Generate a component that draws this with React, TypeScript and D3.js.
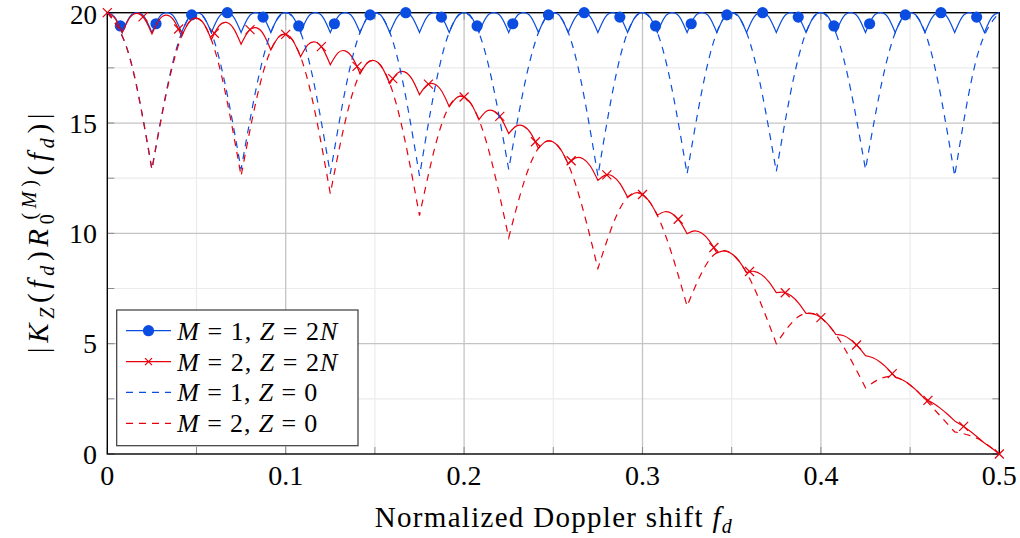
import React from "react";
import * as d3 from "d3";

// ---------- data ----------
const xTickValues = [0, 0.1, 0.2, 0.3, 0.4, 0.5];
const xTickLabels = ["0", "0.1", "0.2", "0.3", "0.4", "0.5"];
const xMinorTicks = [0.05, 0.15, 0.25, 0.35, 0.45];
const yTickValues = [0, 5, 10, 15, 20];
const yTickLabels = ["0", "5", "10", "15", "20"];
const yMinorTicks = [2.5, 7.5, 12.5, 17.5];

// solid curves: samples every 1/240 in f_d (peaks, quarter points, cusps)
const solidStep = 1 / 240;
const blueSolid = [
  20, 19.8, 19.1, 19.8, 20, 19.8, 19.1, 19.8, 20, 19.8, 19.1, 19.8, 20, 19.8, 19.1, 19.8, 20, 19.8, 19.1, 19.8,
  20, 19.8, 19.1, 19.8, 20, 19.8, 19.1, 19.8, 20, 19.8, 19.1, 19.8, 20, 19.8, 19.1, 19.8, 20, 19.8, 19.1, 19.8,
  20, 19.8, 19.1, 19.8, 20, 19.8, 19.1, 19.8, 20, 19.8, 19.1, 19.8, 20, 19.8, 19.1, 19.8, 20, 19.8, 19.1, 19.8,
  20, 19.8, 19.1, 19.8, 20, 19.8, 19.1, 19.8, 20, 19.8, 19.1, 19.8, 20, 19.8, 19.1, 19.8, 20, 19.8, 19.1, 19.8,
  20, 19.8, 19.1, 19.8, 20, 19.8, 19.1, 19.8, 20, 19.8, 19.1, 19.8, 20, 19.8, 19.1, 19.8, 20, 19.8, 19.1, 19.8,
  20, 19.8, 19.1, 19.8, 20, 19.8, 19.1, 19.8, 20, 19.8, 19.1, 19.8, 20, 19.8, 19.1, 19.8, 20, 19.8, 19.1, 19.8,
  20,
];
const redSolid = [
  20.0, 19.77, 19.09, 19.76, 19.97, 19.73, 19.04, 19.69, 19.89, 19.63,
  18.93, 19.57, 19.75, 19.49, 18.78, 19.39, 19.56, 19.28, 18.57, 19.16,
  19.32, 19.03, 18.31, 18.88, 19.02, 18.72, 18.0, 18.55, 18.67, 18.36,
  17.64, 18.17, 18.27, 17.95, 17.24, 17.73, 17.82, 17.5, 16.78, 17.25,
  17.32, 16.99, 16.28, 16.72, 16.77, 16.44, 15.74, 16.15, 16.18, 15.84,
  15.15, 15.53, 15.54, 15.2, 14.52, 14.86, 14.86, 14.52, 13.85, 14.16,
  14.14, 13.8, 13.15, 13.42, 13.38, 13.04, 12.4, 12.64, 12.59, 12.24,
  11.63, 11.83, 11.76, 11.41, 10.82, 10.98, 10.89, 10.55, 9.98, 10.11,
  10.0, 9.66, 9.11, 9.21, 9.08, 8.74, 8.22, 8.28, 8.13, 7.8,
  7.31, 7.33, 7.17, 6.84, 6.37, 6.35, 6.18, 5.86, 5.42, 5.37,
  5.18, 4.87, 4.46, 4.36, 4.16, 3.86, 3.48, 3.35, 3.13, 2.84,
  2.49, 2.32, 2.09, 1.81, 1.5, 1.29, 1.05, 0.78, 0.5, 0.26,
  0,
];

// dashed curves: samples every 0.0125 in f_d
const dashedStep = 0.0125;
const blueDashed = [
  20, 18.0, 12.9, 18.0, 20, 18.0, 12.9, 18.0, 20, 18.0, 12.7, 18.0, 20, 18.0, 12.6, 18.0,
  20, 18.0, 12.9, 18.0, 20, 18.0, 12.6, 18.0, 20, 18.0, 12.7, 18.0, 20, 18.0, 12.8, 18.0,
  20, 18.0, 12.9, 18.0, 20, 18.0, 12.6, 18.0, 20,
];
const redDashed = [
  20.0, 17.99, 12.9, 17.88, 19.75, 17.66, 12.6, 17.33, 19.02, 16.89,
  11.8, 16.35, 17.82, 15.71, 10.8, 14.97, 16.18, 14.14, 9.8, 13.22,
  14.14, 12.22, 8.4, 11.15, 11.76, 10.0, 6.7, 8.8, 9.08, 7.54,
  5.0, 6.23, 6.18, 4.89, 3.0, 3.51, 3.13, 2.12, 1.0, 0.71,
  0,
];

// markers
const blueMarkX = [
  0.0073, 0.0273, 0.0473, 0.0673, 0.0873, 0.1073, 0.1273, 0.1473, 0.1673, 0.1873,
  0.2073, 0.2273, 0.2473, 0.2673, 0.2873, 0.3073, 0.3273, 0.3473, 0.3673, 0.3873,
  0.4073, 0.4273, 0.4473, 0.4673, 0.4873,
];
const blueMarkY = [
  19.4, 19.5, 19.9, 20.0, 19.8, 19.4, 19.5, 19.9, 20.0, 19.8,
  19.4, 19.5, 19.9, 20.0, 19.8, 19.4, 19.5, 19.9, 20.0, 19.8,
  19.4, 19.5, 19.9, 20.0, 19.8,
];
const redMarkX = [
  0, 0.02, 0.04, 0.06, 0.08, 0.1, 0.12, 0.14, 0.16, 0.18, 0.2, 0.22, 0.24,
  0.26, 0.28, 0.3, 0.32, 0.34, 0.36, 0.38, 0.4, 0.42, 0.44, 0.46, 0.48, 0.5,
];
const redMarkY = [
  20, 19.81, 19.26, 19.07, 19.23, 19.02, 18.46, 17.57, 17.01, 16.76, 16.18, 15.3, 14.15,
  13.29, 12.65, 11.76, 10.64, 9.36, 8.27, 7.31, 6.18, 4.94, 3.64, 2.43, 1.25, 0,
];

// ---------- layout / style ----------
const W = 1020;
const H = 538;
const L = 107.3;
const R = 999.3;
const T = 12.7;
const B = 454;
const BLUE = "#0a4de0";
const RED = "#e6000c";
const FONT =
  '"Liberation Serif", "DejaVu Serif", "Noto Serif", "Tinos", "FreeSerif", "Nimbus Roman", "Times New Roman", Times, serif';

const x = d3.scaleLinear().domain([0, 0.5]).range([L, R]);
const y = d3.scaleLinear().domain([0, 20]).range([B, T]);

// Build a path of smooth arcs joined at cusps (every 4th sample, offset 2)
function scallopPath(step: number, vals: number[]): string {
  const pts: [number, number][] = vals.map((v, i) => [x(i * step), y(v)]);
  const pieces: [number, number][][] = [];
  let cur: [number, number][] = [];
  pts.forEach((p, i) => {
    cur.push(p);
    if (i % 4 === 2 && i !== pts.length - 1) {
      pieces.push(cur);
      cur = [p];
    }
  });
  if (cur.length > 1) pieces.push(cur);
  const gen = d3.line<[number, number]>().curve(d3.curveNatural);
  return pieces
    .map((pc, k) => {
      const s = gen(pc) || "";
      if (k === 0) return s;
      const idx = s.search(/[CLQ]/);
      return s.slice(idx);
    })
    .join("");
}

function Cross({ cx, cy, s, color }: { cx: number; cy: number; s: number; color: string }) {
  return (
    <g stroke={color} strokeWidth={1.2}>
      <line x1={cx - s} y1={cy - s} x2={cx + s} y2={cy + s} />
      <line x1={cx - s} y1={cy + s} x2={cx + s} y2={cy - s} />
    </g>
  );
}

function LegendLabel({ xx, yy, m, z }: { xx: number; yy: number; m: string; z: string }) {
  return (
    <text x={xx} y={yy} fontSize={26} style={{ fontFamily: FONT }} textLength={z === "2N" ? 160 : 140} lengthAdjust="spacing">
      <tspan fontStyle="italic">M</tspan>
      {" = " + m + ", "}
      <tspan fontStyle="italic">Z</tspan>
      {" = " + (z === "2N" ? "2" : z)}
      {z === "2N" ? <tspan fontStyle="italic">N</tspan> : null}
    </text>
  );
}

export default function App() {
  const legendRows = [330.7, 361.7, 392.3, 423.3];
  return (
    <svg
      width={W}
      height={H}
      viewBox={`0 0 ${W} ${H}`}
      style={{ position: "absolute", left: 0, top: 0, background: "#fff", fontFamily: FONT }}
    >
      <rect x={0} y={0} width={W} height={H} fill="#fff" />
      {/* minor grid */}
      <g stroke="#ebebeb" strokeWidth={1.2}>
        {xMinorTicks.map((v) => (
          <line key={"xm" + v} x1={x(v)} x2={x(v)} y1={T} y2={B} />
        ))}
        {yMinorTicks.map((v) => (
          <line key={"ym" + v} x1={L} x2={R} y1={y(v)} y2={y(v)} />
        ))}
      </g>
      {/* major grid */}
      <g stroke="#c4c4c4" strokeWidth={1.3}>
        {xTickValues.slice(1, -1).map((v) => (
          <line key={"xg" + v} x1={x(v)} x2={x(v)} y1={T} y2={B} />
        ))}
        {yTickValues.slice(1, -1).map((v) => (
          <line key={"yg" + v} x1={L} x2={R} y1={y(v)} y2={y(v)} />
        ))}
      </g>
      {/* ticks inward on all sides */}
      <g stroke="#8a8a8a" strokeWidth={1}>
        {[...xTickValues, ...xMinorTicks].map((v) => (
          <g key={"xt" + v}>
            <line x1={x(v)} x2={x(v)} y1={B} y2={B - 7} />
            <line x1={x(v)} x2={x(v)} y1={T} y2={T + 7} />
          </g>
        ))}
        {[...yTickValues, ...yMinorTicks].map((v) => (
          <g key={"yt" + v}>
            <line x1={L} x2={L + 7} y1={y(v)} y2={y(v)} />
            <line x1={R} x2={R - 7} y1={y(v)} y2={y(v)} />
          </g>
        ))}
      </g>
      {/* frame */}
      <rect x={L} y={T} width={R - L} height={B - T} fill="none" stroke="#000" strokeWidth={1.4} />

      {/* M=1, Z=2N */}
      <path d={scallopPath(solidStep, blueSolid)} fill="none" stroke={BLUE} strokeWidth={1.2} />
      {blueMarkX.map((v, i) => (
        <circle key={"bm" + i} cx={x(v)} cy={y(blueMarkY[i])} r={5.6} fill={BLUE} />
      ))}
      {/* M=2, Z=2N */}
      <path d={scallopPath(solidStep, redSolid)} fill="none" stroke={RED} strokeWidth={1.2} />
      {redMarkX.map((v, i) => (
        <Cross key={"rm" + i} cx={x(v)} cy={y(redMarkY[i])} s={4.5} color={RED} />
      ))}
      {/* M=1, Z=0 */}
      <path
        d={scallopPath(dashedStep, blueDashed)}
        fill="none"
        stroke={BLUE}
        strokeWidth={1.2}
        strokeDasharray="7 6"
      />
      {/* M=2, Z=0 */}
      <path
        d={scallopPath(dashedStep, redDashed)}
        fill="none"
        stroke={RED}
        strokeWidth={1.2}
        strokeDasharray="7 6"
      />

      {/* tick labels */}
      <g style={{ fontFamily: FONT }} fontSize={28} fill="#000">
        {xTickValues.map((v, i) => (
          <text key={"xl" + v} x={x(v)} y={485} textAnchor="middle">
            {xTickLabels[i]}
          </text>
        ))}
        {yTickValues.map((v, i) => (
          <text key={"yl" + v} x={97} y={y(v) + (v === 20 ? 11 : 9.5)} textAnchor="end" fontSize={v === 20 ? 27 : 28}>
            {yTickLabels[i]}
          </text>
        ))}
      </g>

      {/* x axis label */}
      <text x={(L + R) / 2} y={527} textAnchor="middle" style={{ fontFamily: FONT }} fontSize={29} textLength={357} lengthAdjust="spacing">
        {"Normalized Doppler shift "}
        <tspan fontStyle="italic">f</tspan>
        <tspan fontStyle="italic" fontSize={20} dy={6}>d</tspan>
      </text>

      {/* y axis label */}
      <text
        transform={`translate(48,${(T + B) / 2}) rotate(-90)`}
        textAnchor="middle"
        style={{ fontFamily: FONT }}
        fontSize={29}
        textLength={240}
        lengthAdjust="spacing"
      >
        <tspan>|</tspan>
        <tspan fontStyle="italic">K</tspan>
        <tspan fontStyle="italic" fontSize={20} dy={6}>Z</tspan>
        <tspan dy={-6}>(</tspan>
        <tspan fontStyle="italic">f</tspan>
        <tspan fontStyle="italic" fontSize={20} dy={6}>d</tspan>
        <tspan dy={-6}>)</tspan>
        <tspan fontStyle="italic">R</tspan>
        <tspan fontSize={20} dy={6}>0</tspan>
        <tspan fontSize={20} dx={-10} dy={-18}>(</tspan>
        <tspan fontSize={20} fontStyle="italic">M</tspan>
        <tspan fontSize={20}>)</tspan>
        <tspan dy={12}>(</tspan>
        <tspan fontStyle="italic">f</tspan>
        <tspan fontStyle="italic" fontSize={20} dy={6}>d</tspan>
        <tspan dy={-6}>)|</tspan>
      </text>

      {/* legend */}
      <rect x={116.7} y={310} width={241.3} height={135.7} fill="#fff" stroke="#3a3a3a" strokeWidth={1.2} />
      <line x1={126} x2={171} y1={legendRows[0]} y2={legendRows[0]} stroke={BLUE} strokeWidth={1.2} />
      <circle cx={148.5} cy={legendRows[0]} r={5.6} fill={BLUE} />
      <line x1={126} x2={171} y1={legendRows[1]} y2={legendRows[1]} stroke={RED} strokeWidth={1.2} />
      <Cross cx={148.5} cy={legendRows[1]} s={3.5} color={RED} />
      <line x1={126} x2={171} y1={legendRows[2]} y2={legendRows[2]} stroke={BLUE} strokeWidth={1.2} strokeDasharray="7 6" />
      <line x1={126} x2={171} y1={legendRows[3]} y2={legendRows[3]} stroke={RED} strokeWidth={1.2} strokeDasharray="7 6" />
      <LegendLabel xx={177.3} yy={legendRows[0] + 9} m="1" z="2N" />
      <LegendLabel xx={177.3} yy={legendRows[1] + 9} m="2" z="2N" />
      <LegendLabel xx={177.3} yy={legendRows[2] + 9} m="1" z="0" />
      <LegendLabel xx={177.3} yy={legendRows[3] + 9} m="2" z="0" />
    </svg>
  );
}
